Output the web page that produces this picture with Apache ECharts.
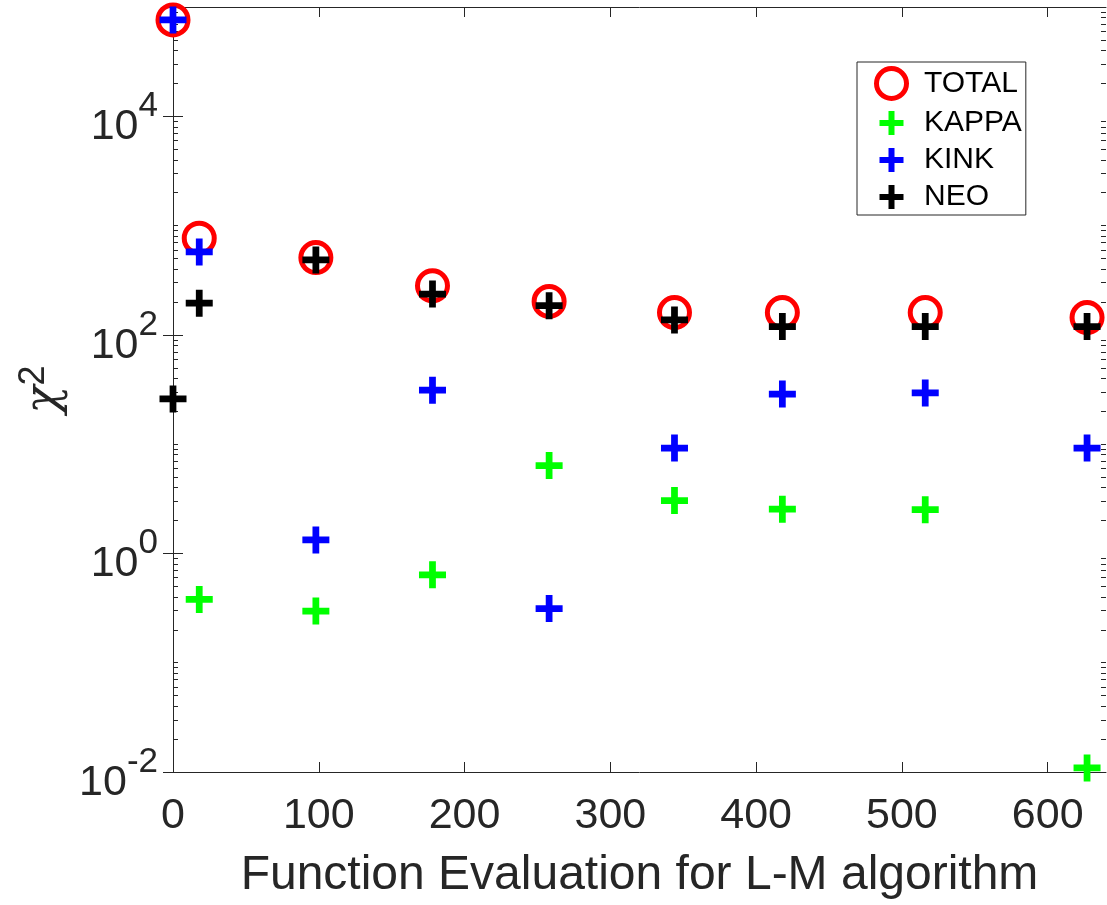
<!DOCTYPE html>
<html>
<head>
<meta charset="utf-8">
<script src="https://cdn.jsdelivr.net/npm/echarts@6/dist/echarts.min.js"></script>
<style>
  html, body { margin: 0; padding: 0; background: #fff; }
  #chart { width: 1107px; height: 905px; }
</style>
</head>
<body>
<div id="chart"></div>
<script>
// function evaluations (x) and chi^2 per component
const evals = [0, 18, 98, 178, 258, 344, 418, 516, 627]
const total = [76200, 767, 509, 281, 202, 160, 160, 160, 144]
const kappa = [null, 0.379, 0.297, 0.637, 6.37, 3.05, 2.54, 2.51, 0.0109]
const kink = [76200, 574, 1.33, 31.2, 0.313, 9.2, 28.7, 29.4, 9.2]
const neo = [25.9, 195, 485, 236, 185, 137, 119, 119, 119]

const xTicks = [0, 100, 200, 300, 400, 500, 600]
const yMajor = [0.01, 1, 100, 10000]
const yMinor = []
for (let e = -2; e < 5; e++) {
  for (let m = 1; m <= 9; m++) {
    const v = m * Math.pow(10, e)
    if (!(m === 1 && e % 2 === 0)) yMinor.push(+v.toPrecision(3))
  }
}
yMinor.push(100000)

const axisColor = '#262626'
const plusPath = 'path://M3,0H5V3H8V5H5V8H3V5H0V3H3Z'
const plusIcon = 'path://M-1,-1M9,9M3,0H5V3H8V5H5V8H3V5H0V3H3Z'
const ringStyle = { color: 'rgba(255,255,255,0)', borderColor: '#ff0000', borderWidth: 5, opacity: 1 }

function pairs(ys) {
  const out = []
  ys.forEach((y, i) => {
    if (y != null) out.push([evals[i], y])
  })
  return out
}

function plusSeries(name, color, ys) {
  return {
    name: name,
    type: 'scatter',
    clip: false,
    symbol: plusPath,
    symbolSize: 27,
    itemStyle: { color: color, opacity: 1 },
    emphasis: { disabled: true },
    data: pairs(ys)
  }
}

function logAxis(position, ticks, len, showLine, showLabel) {
  return {
    type: 'log',
    logBase: 10,
    position: position,
    min: 0.01,
    max: 100000,
    axisLine: { show: showLine, lineStyle: { color: axisColor, width: 1 } },
    axisTick: { show: true, inside: true, length: len, customValues: ticks, lineStyle: { color: axisColor, width: 1 } },
    axisLabel: showLabel ? {
      customValues: yMajor,
      margin: 15,
      formatter: function (v) {
        const e = Math.round(Math.log10(v))
        return '{b|10}{s|' + e + '}'
      },
      rich: {
        b: { fontSize: 43, fontFamily: 'Liberation Sans', color: axisColor, verticalAlign: 'middle', padding: [22, 0, 0, 0] },
        s: { fontSize: 35, fontFamily: 'Liberation Sans', color: axisColor, verticalAlign: 'middle', padding: [0, 0, 20, 0] }
      }
    } : { show: false },
    splitLine: { show: false },
    minorTick: { show: false }
  }
}

const chart = echarts.init(document.getElementById('chart'))
chart.setOption({
  backgroundColor: '#fff',
  animation: false,
  grid: { left: 173, right: 1, top: 7, bottom: 133, containLabel: false, outerBoundsMode: 'none' },
  legend: {
    orient: 'vertical',
    left: 857,
    top: 62,
    padding: [4, 4, 3, 17],
    itemWidth: 55,
    itemHeight: 30,
    itemGap: 7,
    borderColor: axisColor,
    borderWidth: 1,
    backgroundColor: '#fff',
    selectedMode: false,
    textStyle: { fontSize: 30, fontFamily: 'Liberation Sans', color: '#000' },
    data: [
      { name: 'TOTAL', icon: 'circle', itemStyle: ringStyle },
      { name: 'KAPPA', icon: plusIcon },
      { name: 'KINK', icon: plusIcon },
      { name: 'NEO', icon: plusIcon }
    ]
  },
  xAxis: [{
    type: 'value',
    position: 'bottom',
    min: 0,
    max: 640,
    interval: 100,
    name: 'Function Evaluation for L-M algorithm',
    nameLocation: 'middle',
    nameGap: 80,
    nameTextStyle: { fontSize: 48, fontFamily: 'Liberation Sans', color: axisColor },
    axisLine: { lineStyle: { color: axisColor, width: 1 } },
    axisTick: { inside: true, length: 10, customValues: xTicks, lineStyle: { color: axisColor } },
    axisLabel: { customValues: xTicks, margin: 23, fontSize: 43, fontFamily: 'Liberation Sans', color: axisColor },
    splitLine: { show: false }
  }, {
    type: 'value',
    position: 'top',
    min: 0,
    max: 640,
    interval: 100,
    axisLine: { lineStyle: { color: axisColor, width: 1 } },
    axisTick: { inside: true, length: 10, customValues: xTicks, lineStyle: { color: axisColor } },
    axisLabel: { show: false },
    splitLine: { show: false }
  }],
  yAxis: [
    Object.assign(logAxis('left', yMajor, 10, true, true), {
      name: '{c|χ}{s|2}',
      nameLocation: 'middle',
      nameGap: 98,
      nameRotate: 90,
      nameTextStyle: {
        rich: {
          c: { fontSize: 46, fontFamily: 'DejaVu Serif', fontStyle: 'italic', color: axisColor, verticalAlign: 'middle' },
          s: { fontSize: 36, fontFamily: 'Liberation Sans', color: axisColor, verticalAlign: 'middle', padding: [0, 0, 22, 0] }
        }
      }
    }),
    logAxis('right', yMajor, 10, true, false),
    logAxis('left', yMinor, 5, false, false),
    logAxis('right', yMinor, 5, false, false)
  ],
  series: [
    {
      name: 'TOTAL',
      type: 'scatter',
      clip: false,
      symbol: 'circle',
      symbolSize: 30,
      itemStyle: ringStyle,
      emphasis: { disabled: true },
      data: pairs(total)
    },
    plusSeries('KAPPA', '#00ff00', kappa),
    plusSeries('KINK', '#0000ff', kink),
    plusSeries('NEO', '#000000', neo)
  ]
})
</script>
</body>
</html>
